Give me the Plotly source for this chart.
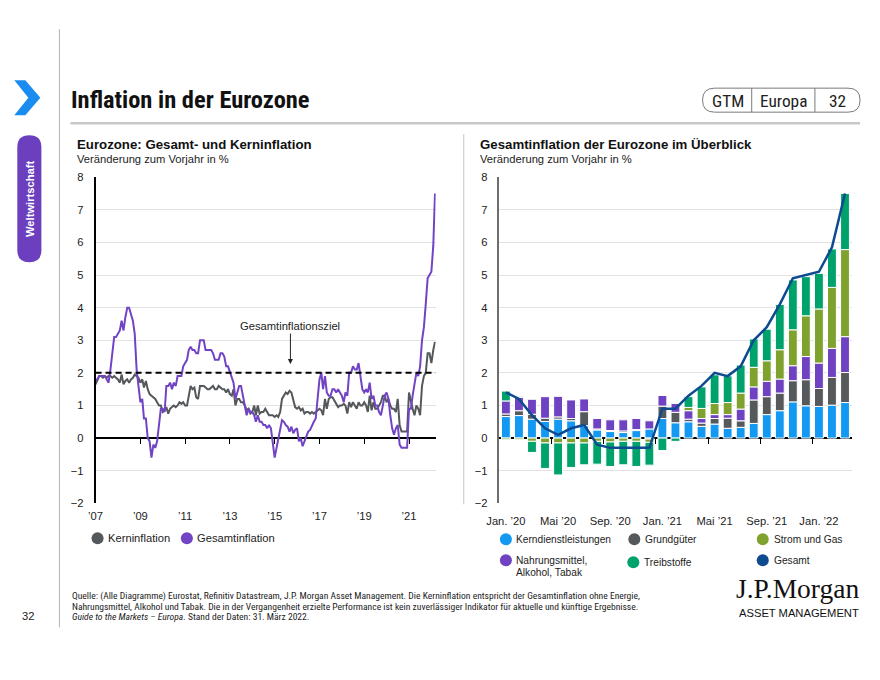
import plotly.graph_objects as go
import pandas as pd

W, H = 880, 680
# compensation for the way the page is photographed (observed ~0.982 scale, offset 16/7 px)
S, OX, OY = 0.982, 16.0, 7.0
def fx(X): return X / S - OX          # reference pixel -> figure pixel
def fy(Y): return Y / S - OY
def px(X): return fx(X) / W
def py(Y): return 1 - fy(Y) / H
def fs(size): return round(size / S, 2)

SANS = "Liberation Sans, Arial, sans-serif"
NARROW = "Liberation Sans Narrow, Arial Narrow, Roboto Condensed, Liberation Sans, sans-serif"

# ---------------- Left chart data (monthly, Jan 2007 - Mar 2022) ----------------
left_months = pd.date_range("2007-01-01", periods=183, freq="MS")
headline = [
    1.8, 1.8, 1.9, 1.9, 1.9, 1.9, 1.8, 1.7, 2.1, 2.6, 3.1, 3.1,      # 2007
    3.2, 3.3, 3.6, 3.3, 3.7, 4.0, 4.0, 3.8, 3.6, 3.2, 2.1, 1.6,      # 2008
    1.1, 1.2, 0.6, 0.6, 0.0, -0.1, -0.6, -0.2, -0.3, -0.1, 0.5, 0.9, # 2009
    0.9, 0.8, 1.6, 1.6, 1.7, 1.5, 1.7, 1.6, 1.9, 1.9, 1.9, 2.2,      # 2010
    2.3, 2.4, 2.7, 2.8, 2.7, 2.7, 2.6, 2.6, 3.0, 3.0, 3.0, 2.7,      # 2011
    2.7, 2.7, 2.7, 2.6, 2.4, 2.4, 2.4, 2.6, 2.6, 2.5, 2.2, 2.2,      # 2012
    2.0, 1.8, 1.7, 1.2, 1.4, 1.6, 1.6, 1.3, 1.1, 0.7, 0.9, 0.8,      # 2013
    0.8, 0.7, 0.5, 0.7, 0.5, 0.5, 0.4, 0.4, 0.3, 0.4, 0.3, -0.2,     # 2014
    -0.6, -0.3, 0.0, 0.2, 0.55, 0.5, 0.4, 0.35, 0.2, 0.35, 0.15, 0.25,  # 2015
    0.3, -0.1, 0.0, -0.25, -0.1, 0.1, 0.2, 0.25, 0.4, 0.5, 0.6, 1.1, # 2016
    1.8, 2.0, 1.5, 1.9, 1.4, 1.3, 1.3, 1.5, 1.5, 1.4, 1.5, 1.4,      # 2017
    1.3, 1.1, 1.4, 1.3, 2.0, 2.0, 2.2, 2.1, 2.1, 2.3, 1.9, 1.5,      # 2018
    1.4, 1.5, 1.4, 1.7, 1.2, 1.3, 1.0, 1.0, 0.8, 0.7, 1.0, 1.3,      # 2019
    1.4, 1.2, 0.7, 0.3, 0.1, 0.3, 0.4, -0.2, -0.3, -0.3, -0.3, -0.3, # 2020
    0.9, 0.9, 1.3, 1.6, 2.0, 1.9, 2.2, 3.0, 3.4, 4.1, 4.9, 5.0,      # 2021
    5.1, 5.9, 7.5,                                                   # 2022
]
core = [
    1.65, 1.8, 1.9, 1.9, 1.85, 1.9, 1.85, 1.9, 1.9, 1.85, 1.9, 1.85, # 2007
    1.8, 1.7, 1.95, 1.65, 1.75, 1.8, 1.7, 1.8, 1.85, 1.95, 1.9, 1.85,# 2008
    1.7, 1.8, 1.55, 1.75, 1.5, 1.35, 1.3, 1.25, 1.2, 1.1, 1.0, 1.0,  # 2009
    0.8, 0.85, 0.95, 0.75, 0.9, 0.95, 1.0, 0.95, 1.0, 1.1, 1.05, 1.1,# 2010
    1.0, 1.0, 1.3, 1.6, 1.5, 1.55, 1.25, 1.2, 1.6, 1.6, 1.6, 1.55,   # 2011
    1.5, 1.5, 1.55, 1.6, 1.5, 1.5, 1.6, 1.55, 1.5, 1.5, 1.4, 1.5,    # 2012
    1.35, 1.3, 1.5, 1.0, 1.2, 1.2, 1.1, 1.1, 1.0, 0.85, 0.9, 0.75,   # 2013
    0.8, 1.0, 0.7, 1.0, 0.75, 0.8, 0.8, 0.9, 0.8, 0.7, 0.7, 0.7,     # 2014
    0.65, 0.7, 0.65, 0.8, 1.2, 1.3, 1.4, 1.35, 1.45, 1.4, 1.2, 0.95, # 2015
    0.9, 0.95, 0.85, 0.9, 0.75, 0.8, 0.8, 0.75, 0.8, 0.75, 0.8, 0.85,# 2016
    0.9, 0.85, 0.7, 1.2, 0.9, 1.2, 1.25, 1.25, 1.15, 1.05, 0.95, 1.0,# 2017
    1.0, 1.05, 1.0, 0.75, 1.1, 0.95, 1.1, 1.0, 0.9, 1.1, 1.0, 1.0,   # 2018
    1.1, 1.0, 0.8, 1.3, 0.85, 1.1, 0.9, 0.9, 1.0, 1.1, 1.3, 1.3,     # 2019
    1.1, 1.2, 1.0, 0.9, 0.9, 0.8, 1.2, 0.4, 0.2, 0.2, 0.2, 0.2,      # 2020
    1.4, 1.1, 0.9, 0.7, 1.0, 0.9, 0.7, 1.6, 1.9, 2.0, 2.6, 2.6,      # 2021
    2.3, 2.7, 2.95,                                                  # 2022
]
target = 2.0
left_tick_years = ["2007", "2009", "2011", "2013", "2015", "2017", "2019", "2021"]
left_tick_text = ["’07", "’09", "’11", "’13", "’15", "’17", "’19", "’21"]

# ---------------- Right chart data (Jan 2020 - Mar 2022) ----------------
right_idx = list(range(27))
kern = [0.66, 0.69, 0.58, 0.51, 0.58, 0.53, 0.38, 0.25, 0.20, 0.17, 0.23, 0.28,
        0.60, 0.47, 0.50, 0.36, 0.43, 0.30, 0.33, 0.45, 0.72, 0.84, 1.11, 0.99,
        0.97, 1.01, 1.09]
grund = [0.08, 0.15, 0.15, 0.10, 0.07, 0.07, 0.43, 0.03, 0.03, 0.05, 0.03, -0.03,
         0.38, 0.32, 0.08, 0.10, 0.17, 0.31, 0.20, 0.72, 0.55, 0.54, 0.65, 0.80,
         0.55, 0.85, 0.92]
nahrung = [0.40, 0.41, 0.46, 0.66, 0.63, 0.57, 0.39, 0.32, 0.33, 0.34, 0.34, 0.25,
           0.33, 0.28, 0.26, 0.14, 0.12, 0.11, 0.36, 0.40, 0.47, 0.43, 0.46, 0.71,
           0.78, 0.89, 1.10]
strom = [-0.05, -0.05, -0.10, -0.15, -0.15, -0.15, -0.15, -0.10, -0.12, -0.10, -0.10, -0.10,
         0.0, 0.0, 0.10, 0.31, 0.34, 0.37, 0.49, 0.60, 0.63, 0.90, 1.10, 1.25,
         1.66, 1.87, 2.67]
treib = [0.30, 0.03, -0.34, -0.78, -0.98, -0.75, -0.67, -0.70, -0.75, -0.72, -0.77, -0.70,
         -0.38, -0.10, 0.33, 0.66, 0.88, 0.82, 0.86, 0.87, 0.97, 1.39, 1.53, 1.20,
         1.09, 1.18, 1.72]
gesamt = [1.4, 1.2, 0.7, 0.3, 0.1, 0.3, 0.4, -0.2, -0.3, -0.3, -0.3, -0.3,
          0.9, 0.9, 1.3, 1.6, 2.0, 1.9, 2.2, 3.0, 3.4, 4.1, 4.9, 5.0,
          5.1, 5.85, 7.5]
right_tick_pos = [0, 4, 8, 12, 16, 20, 24]
right_tick_text = ["Jan. ’20", "Mai ’20", "Sep. ’20", "Jan. ’21", "Mai ’21", "Sep. ’21", "Jan. ’22"]
right_zero_ticks = [3.5, 7.5, 11.5, 15.5, 19.5, 23.5]

# ---------------- Colours ----------------
C_CORE = "#55585b"
C_HEAD = "#7044c4"
C_KERN = "#1499f2"
C_GRUND = "#55595c"
C_NAHR = "#6f42c1"
C_STROM = "#7fa22f"
C_TREIB = "#00a26c"
C_GES = "#0d4a8f"

fig = go.Figure()

# Left chart
fig.add_trace(go.Scatter(x=left_months, y=core, mode="lines", line=dict(color=C_CORE, width=2),
                         name="Kerninflation", showlegend=False, xaxis="x", yaxis="y"))
fig.add_trace(go.Scatter(x=left_months, y=headline, mode="lines", line=dict(color=C_HEAD, width=2),
                         name="Gesamtinflation", showlegend=False, xaxis="x", yaxis="y"))
fig.add_trace(go.Scatter(x=[left_months[0]], y=[None], mode="lines", showlegend=False,
                         hoverinfo="skip", xaxis="x3", yaxis="y"))

# Right chart
for vals, col, nm in [(kern, C_KERN, "Kerndienstleistungen"), (grund, C_GRUND, "Grundgüter"),
                      (nahrung, C_NAHR, "Nahrungsmittel, Alkohol, Tabak"),
                      (strom, C_STROM, "Strom und Gas"), (treib, C_TREIB, "Treibstoffe")]:
    fig.add_trace(go.Bar(x=right_idx, y=vals, marker=dict(color=col, line=dict(color="white", width=1)),
                         width=0.68, name=nm, showlegend=False, xaxis="x2", yaxis="y2"))
fig.add_trace(go.Scatter(x=right_idx, y=gesamt, mode="lines", line=dict(color=C_GES, width=2.5),
                         name="Gesamt", showlegend=False, xaxis="x2", yaxis="y2"))
fig.add_trace(go.Scatter(x=[0], y=[None], mode="lines", showlegend=False,
                         hoverinfo="skip", xaxis="x4", yaxis="y2"))

ydom = [py(504), py(178)]
tickfont = dict(family=SANS, size=fs(11), color="#222")
grid = "#e2e2e2"
zero_pos = py(439)

fig.update_layout(
    width=W, height=H, autosize=False,
    margin=dict(l=0, r=0, t=0, b=0),
    paper_bgcolor="white", plot_bgcolor="white",
    barmode="relative",
    showlegend=False,
    font=dict(family=SANS, color="#222"),
    xaxis=dict(domain=[px(98), px(437)], range=["2007-01-01", "2022-03-12"],
               tickvals=left_tick_years, ticktext=left_tick_text, tickfont=tickfont,
               showgrid=False, zeroline=False, showline=False, ticks="", anchor="y",
               ticklabelstandoff=4),
    yaxis=dict(domain=ydom, range=[-2, 8], dtick=1, tickfont=tickfont, gridcolor=grid,
               showline=True, linecolor="black", linewidth=1.5, zeroline=True,
               zerolinecolor="black", zerolinewidth=1.5, ticks="", anchor="x",
               ticklabelstandoff=8),
    xaxis3=dict(overlaying="x", anchor="free", position=zero_pos, range=["2007-01-01", "2022-03-12"],
                tickvals=left_tick_years[1:], ticks="outside", ticklen=5, tickcolor="black",
                tickwidth=1, showticklabels=False, showgrid=False, zeroline=False, showline=False),
    xaxis2=dict(domain=[px(500.5), px(851.5)], range=[-0.5, 26.5],
                tickvals=right_tick_pos, ticktext=right_tick_text, tickfont=tickfont,
                showgrid=False, zeroline=False, showline=False, ticks="", anchor="y2",
                ticklabelstandoff=9),
    yaxis2=dict(domain=ydom, range=[-2, 8], dtick=1, tickfont=tickfont, gridcolor=grid,
                showline=True, linecolor="#6d6d6d", linewidth=1.5, zeroline=True,
                zerolinecolor="black", zerolinewidth=1.5, ticks="", anchor="x2",
                ticklabelstandoff=8),
    xaxis4=dict(overlaying="x2", anchor="free", position=zero_pos, range=[-0.5, 26.5],
                tickvals=right_zero_ticks, ticks="outside", ticklen=5, tickcolor="black",
                tickwidth=1, showticklabels=False, showgrid=False, zeroline=False, showline=False),
)

shapes = []
annots = []

def line_px(x0, y0, x1, y1, color, width):
    shapes.append(dict(type="line", xref="paper", yref="paper", x0=px(x0), y0=py(y0), x1=px(x1), y1=py(y1),
                       line=dict(color=color, width=width)))

def circle_px(cx, cy, r, color):
    shapes.append(dict(type="circle", xref="paper", yref="paper", x0=px(cx - r), x1=px(cx + r),
                       y0=py(cy + r), y1=py(cy - r), fillcolor=color, line=dict(width=0)))

def rrect_path(x0, y0, x1, y1, r):
    return (f"M {px(x0 + r)},{py(y0)} L {px(x1 - r)},{py(y0)} Q {px(x1)},{py(y0)} {px(x1)},{py(y0 + r)} "
            f"L {px(x1)},{py(y1 - r)} Q {px(x1)},{py(y1)} {px(x1 - r)},{py(y1)} "
            f"L {px(x0 + r)},{py(y1)} Q {px(x0)},{py(y1)} {px(x0)},{py(y1 - r)} "
            f"L {px(x0)},{py(y0 + r)} Q {px(x0)},{py(y0)} {px(x0 + r)},{py(y0)} Z")

def text_px(x, y, txt, size=11, color="#222", family=SANS, xanchor="left", yanchor="middle",
            textangle=0, align="left"):
    annots.append(dict(xref="paper", yref="paper", x=px(x), y=py(y), text=txt, showarrow=False,
                       xanchor=xanchor, yanchor=yanchor, align=align, textangle=textangle,
                       font=dict(family=family, size=fs(size), color=color)))

# Target line (left)
shapes.append(dict(type="line", xref="x domain", yref="y", x0=0, x1=1, y0=target, y1=target,
                   line=dict(color="black", width=2, dash="6px,4px")))
annots.append(dict(xref="x", yref="y", x="2015-09-15", y=2.27, ax=0, ay=-38, text="Gesamtinflationsziel",
                   showarrow=True, arrowhead=2, arrowsize=1, arrowwidth=1, arrowcolor="#222",
                   font=dict(family=SANS, size=fs(11), color="#222")))

# page frame
line_px(62, 30, 62, 628, "#b5b5b5", 1)
line_px(73, 124, 860, 124, "#c8c8c8", 2.5)
line_px(465, 135, 465, 505, "#c4c4c4", 1)

# chevron
chev = [(17, 81), (28, 81), (43, 98.5), (28, 116), (17, 116), (31, 98.5)]
path = "M " + " L ".join(f"{px(x)},{py(y)}" for x, y in chev) + " Z"
shapes.append(dict(type="path", xref="paper", yref="paper", path=path, fillcolor="#1a8cf0",
                   line=dict(width=0)))

# sidebar pill
shapes.append(dict(type="path", xref="paper", yref="paper", path=rrect_path(20, 136, 44, 263, 12),
                   fillcolor="#6c3fbf", line=dict(width=0)))
text_px(32, 199.5, "<b>Weltwirtschaft</b>", size=11, color="white", xanchor="center", textangle=-90)

# title
text_px(72, 100, "<b>Inflation in der Eurozone</b>", size=24, color="#111", family=NARROW)

# GTM pill
shapes.append(dict(type="path", xref="paper", yref="paper", path=rrect_path(703, 89, 860, 113, 12),
                   line=dict(color="#7a7a7a", width=1)))
line_px(752, 89, 752, 113, "#7a7a7a", 1)
line_px(815, 89, 815, 113, "#7a7a7a", 1)
text_px(728, 101.5, "GTM", size=17, color="#222", family=NARROW, xanchor="center")
text_px(784, 101.5, "Europa", size=17, color="#222", family=NARROW, xanchor="center")
text_px(838, 101.5, "32", size=17, color="#222", family=NARROW, xanchor="center")

# chart titles
text_px(78, 145, "<b>Eurozone: Gesamt- und Kerninflation</b>", size=13, color="#111")
text_px(78, 159.5, "Veränderung zum Vorjahr in %", size=11, color="#222")
text_px(479, 145, "<b>Gesamtinflation der Eurozone im Überblick</b>", size=13, color="#111")
text_px(479, 159.5, "Veränderung zum Vorjahr in %", size=11, color="#222")

# left legend
circle_px(100, 539, 6, C_CORE)
text_px(108, 539, "Kerninflation", size=11)
circle_px(189, 539, 6, C_HEAD)
text_px(197, 539, "Gesamtinflation", size=11)

# right legend
circle_px(507, 540, 6, C_KERN)
text_px(515, 540, "Kerndienstleistungen", size=10)
circle_px(635, 540, 6, C_GRUND)
text_px(644, 540, "Grundgüter", size=10)
circle_px(763, 540, 6, C_STROM)
text_px(772, 540, "Strom und Gas", size=10)
circle_px(507, 561, 6, C_NAHR)
text_px(515, 561, "Nahrungsmittel,", size=10)
text_px(515, 573, "Alkohol, Tabak", size=10)
circle_px(634, 563, 6, C_TREIB)
text_px(643, 563, "Treibstoffe", size=10)
circle_px(763, 561, 6, C_GES)
text_px(772, 561, "Gesamt", size=10)

# footer
text_px(73, 597, "Quelle: (Alle Diagramme) Eurostat, Refinitiv Datastream, J.P. Morgan Asset Management. "
        "Die Kerninflation entspricht der Gesamtinflation ohne Energie,", size=9.4, family=NARROW)
text_px(73, 607, "Nahrungsmittel, Alkohol und Tabak. Die in der Vergangenheit erzielte Performance ist kein "
        "zuverlässiger Indikator für aktuelle und künftige Ergebnisse.", size=9.4, family=NARROW)
text_px(73, 617, "<i>Guide to the Markets – Europa</i>. Stand der Daten: 31. März 2022.", size=9.4, family=NARROW)
text_px(31, 617, "32", size=11, xanchor="center")

# logo
text_px(798, 590, "J.P.Morgan", size=27, color="#111", family="Liberation Serif, DejaVu Serif, serif",
        xanchor="center")
text_px(799, 614, "ASSET MANAGEMENT", size=11, color="#111", family=SANS, xanchor="center")

fig.update_layout(shapes=shapes, annotations=annots)

fig.write_html(
    "out.html", config={"displayModeBar": False},
    post_script=("document.documentElement.style.margin='0';document.documentElement.style.padding='0';"
                 "document.documentElement.style.overflow='hidden';"
                 "document.body.style.margin='0';document.body.style.padding='0';"
                 "document.body.style.overflow='hidden';"))
